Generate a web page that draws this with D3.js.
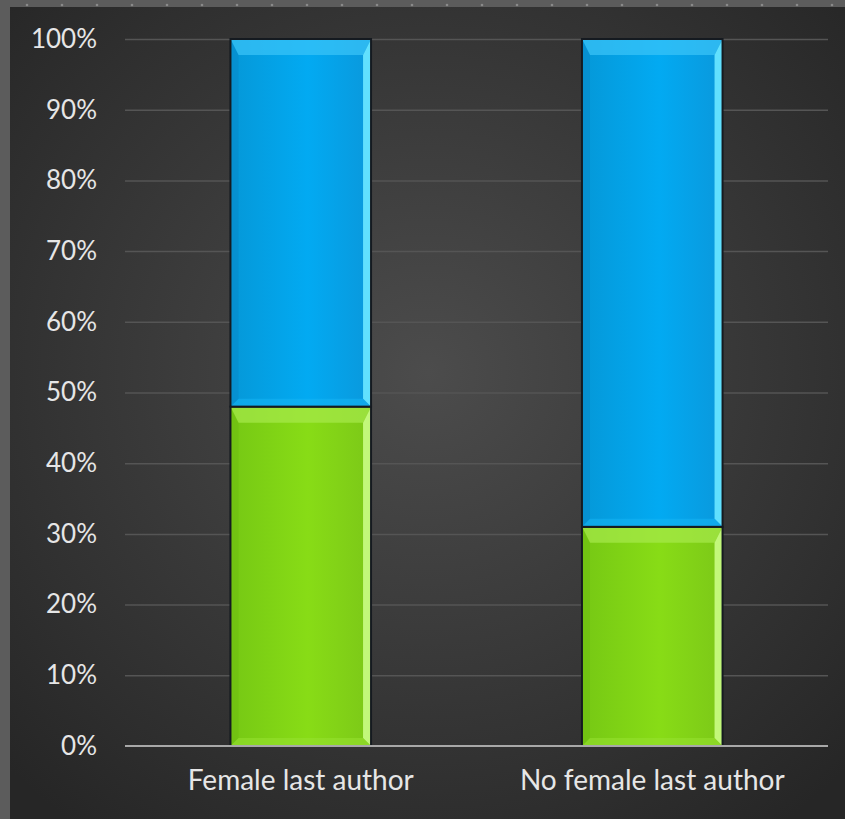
<!DOCTYPE html>
<html>
<head>
<meta charset="utf-8">
<script src="https://cdn.jsdelivr.net/npm/d3@7"></script>
<style>
  body { margin: 0; background: #5a5a5a; }
  svg { display: block; }
</style>
</head>
<body>
<div id="chart-area"></div>
<script>
var categories = ["Female last author", "No female last author"]
var greenValues = [48, 31]
var blueValues = [52, 69]
var tickValues = [0, 10, 20, 30, 40, 50, 60, 70, 80, 90, 100]

var width = 845, height = 819
var margin = {left: 125, right: 17, top: 39, bottom: 73}

var svg = d3.select("#chart-area").append("svg")
    .attr("width", width)
    .attr("height", height)

var defs = svg.append("defs")

// background gradient of the panel
var bg = defs.append("radialGradient").attr("id", "bg")
    .attr("cx", "50%").attr("cy", "45%").attr("r", "70%")
bg.append("stop").attr("offset", "0%").attr("stop-color", "#4c4c4c")
bg.append("stop").attr("offset", "100%").attr("stop-color", "#262626")

function barGrad(id, c1, c2, c3) {
    var g = defs.append("linearGradient").attr("id", id)
        .attr("x1", "0%").attr("x2", "100%").attr("y1", "0%").attr("y2", "0%")
    g.append("stop").attr("offset", "0%").attr("stop-color", c1)
    g.append("stop").attr("offset", "55%").attr("stop-color", c2)
    g.append("stop").attr("offset", "100%").attr("stop-color", c3)
}
barGrad("blueGrad", "#0598d8", "#02aaf2", "#0a98dc")
barGrad("greenGrad", "#76c814", "#88dc16", "#7cc818")

// outer frame with dotted top strip
svg.append("rect").attr("width", width).attr("height", height).attr("fill", "#5c5c5c")
svg.append("g").selectAll("circle")
    .data(d3.range(27, width, 35))
    .enter().append("circle")
    .attr("cx", d => d).attr("cy", 5).attr("r", 1.3)
    .attr("fill", "#8a8a8a")
svg.append("rect").attr("x", 10).attr("y", 7)
    .attr("width", width - 10).attr("height", height - 7)
    .attr("fill", "url(#bg)")

var x = d3.scaleBand()
    .domain(categories)
    .range([margin.left, width - margin.right])
    .paddingInner(0.6)
    .paddingOuter(0.3)

var y = d3.scaleLinear()
    .domain([0, 100])
    .range([height - margin.bottom, margin.top])

// gridlines
svg.append("g").selectAll("line")
    .data(tickValues.filter(d => d > 0))
    .enter().append("line")
    .attr("x1", margin.left).attr("x2", width - margin.right)
    .attr("y1", d => y(d) + 0.5).attr("y2", d => y(d) + 0.5)
    .attr("stroke", "#555")
    .attr("stroke-width", 1.5)

// y axis labels
var yAxis = d3.axisLeft(y).tickValues(tickValues).tickFormat(d => d + "%").tickSize(0).tickPadding(28)
var yg = svg.append("g").attr("transform", "translate(" + margin.left + ",0)").call(yAxis)
yg.select(".domain").remove()
yg.selectAll("text")
    .attr("fill", "#e6e6e6")
    .style("font-family", "Lato, 'Open Sans', sans-serif")
    .style("font-size", "26px")

// bars
var stacks = []
categories.forEach(function (c, i) {
    stacks.push({cat: c, y0: 0, y1: greenValues[i], grad: "greenGrad", top: "#a6ea4c", right: "#c6fa80", bottom: "#98e232", left: "#6cbc10"})
    stacks.push({cat: c, y0: greenValues[i], y1: greenValues[i] + blueValues[i], grad: "blueGrad", top: "#3cc4f8", right: "#66e4ff", bottom: "#16b4f4", left: "#0788c8"})
})

var bev = 8
var barG = svg.append("g")
stacks.forEach(function (s) {
    var x0 = x(s.cat), x1 = x(s.cat) + x.bandwidth()
    var yt = y(s.y1), yb = y(s.y0)
    var g = barG.append("g")
    g.append("rect")
        .attr("x", x0).attr("y", yt)
        .attr("width", x1 - x0).attr("height", yb - yt)
        .attr("fill", "url(#" + s.grad + ")")
    var pts = {
        top: [[x0, yt], [x1, yt], [x1 - bev, yt + bev * 2], [x0 + bev, yt + bev * 2]],
        right: [[x1, yt], [x1, yb], [x1 - bev, yb - bev], [x1 - bev, yt + bev * 2]],
        bottom: [[x0, yb], [x1, yb], [x1 - bev, yb - bev], [x0 + bev, yb - bev]],
        left: [[x0, yt], [x0, yb], [x0 + bev, yb - bev], [x0 + bev, yt + bev * 2]]
    }
    var op = {top: 0.7, right: 0.95, bottom: 0.55, left: 0.5}
    Object.keys(pts).forEach(function (k) {
        g.append("polygon")
            .attr("points", pts[k].map(p => p.join(",")).join(" "))
            .attr("fill", s[k])
            .attr("opacity", op[k])
    })
    g.append("rect")
        .attr("x", x0).attr("y", yt)
        .attr("width", x1 - x0).attr("height", yb - yt)
        .attr("fill", "none")
        .attr("stroke", "#151a20")
        .attr("stroke-width", 2)
})

// baseline
svg.append("line")
    .attr("x1", margin.left).attr("x2", width - margin.right)
    .attr("y1", y(0)).attr("y2", y(0))
    .attr("stroke", "#a8a8a8")
    .attr("stroke-width", 2)

// x axis labels
var xAxis = d3.axisBottom(x).tickSize(0).tickPadding(24)
var xg = svg.append("g").attr("transform", "translate(0," + y(0) + ")").call(xAxis)
xg.select(".domain").remove()
xg.selectAll("text")
    .attr("fill", "#e6e6e6")
    .style("font-family", "Lato, 'Open Sans', sans-serif")
    .style("font-size", "28px")
</script>
</body>
</html>
